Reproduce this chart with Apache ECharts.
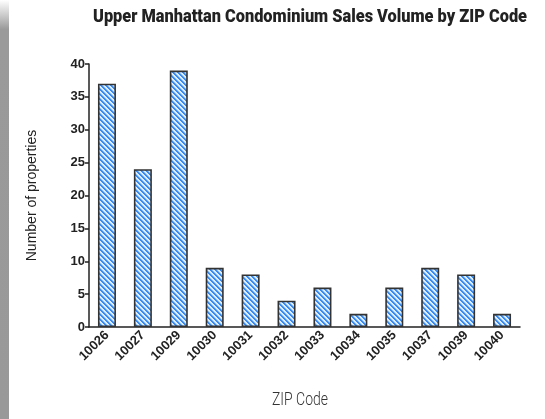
<!DOCTYPE html>
<html>
<head>
<meta charset="utf-8">
<script src="https://cdn.jsdelivr.net/npm/echarts@6/dist/echarts.min.js"></script>
<style>
html,body{margin:0;padding:0;background:#fff;}
#chart{width:545px;height:419px;}
</style>
</head>
<body>
<div id="chart"></div>
<script>
var categories = ['10026','10027','10029','10030','10031','10032','10033','10034','10035','10037','10039','10040'];
var salesCounts = [37, 24, 39, 9, 8, 4, 6, 2, 6, 9, 8, 2];
var yTicks = [0, 5, 10, 15, 20, 25, 30, 35, 40];
var titleText = 'Upper Manhattan Condominium Sales Volume by ZIP Code';
var xAxisTitle = 'ZIP Code';
var yAxisTitle = 'Number of properties';

function makePattern() {
  var c = document.createElement('canvas');
  var p = 5;
  c.width = p; c.height = p;
  var ctx = c.getContext('2d');
  var img = ctx.createImageData(p, p);
  for (var y = 0; y < p; y++) {
    for (var x = 0; x < p; x++) {
      var k = ((x - y) % p + p) % p;
      var i = (y * p + x) * 4;
      if (k < 2) { img.data[i]=58; img.data[i+1]=140; img.data[i+2]=240; }
      else if (k === 2) { img.data[i]=140; img.data[i+1]=190; img.data[i+2]=250; }
      else { img.data[i]=222; img.data[i+1]=237; img.data[i+2]=255; }
      img.data[i+3]=255;
    }
  }
  ctx.putImageData(img, 0, 0);
  return c;
}

function fitScale(text, font, target) {
  var c = document.createElement('canvas').getContext('2d');
  c.font = font;
  return target / c.measureText(text).width;
}

var titleFont = '900 18px Roboto';
var xNameFont = '300 18px Roboto';

var chart = echarts.init(document.getElementById('chart'), null, {renderer:'canvas'});
chart.setOption({
  animation: false,
  backgroundColor: '#fff',
  graphic: [{
    type: 'rect', left: 0, top: 0, z: -1,
    shape: {width: 9, height: 419},
    style: {fill: new echarts.graphic.LinearGradient(0,0,0,1,[
      {offset:0, color:'#ffffff'},{offset:0.07, color:'#9a9a9a'},{offset:1, color:'#999999'}])}
  }, {
    type: 'text', x: 310, y: 17, scaleX: fitScale(titleText, titleFont, 434),
    style: {text: titleText, font: titleFont, fill: '#222', textAlign: 'center', textVerticalAlign: 'middle'}
  }, {
    type: 'text', x: 300, y: 400, scaleX: fitScale(xAxisTitle, xNameFont, 56),
    style: {text: xAxisTitle, font: xNameFont, fill: '#333', textAlign: 'center', textVerticalAlign: 'middle'}
  }],
  grid: {left: 89, right: 25, top: 64, bottom: 92},
  xAxis: {
    type: 'category', data: categories,
    axisLine: {lineStyle: {color: '#222', width: 1.5}},
    axisTick: {alignWithLabel: true, length: 4, lineStyle: {color: '#222', width: 1.5}},
    axisLabel: {rotate: 45, fontFamily: 'Liberation Sans', fontWeight: 'bold', fontSize: 13, color: '#222', margin: 6}
  },
  yAxis: {
    type: 'value', min: 0, max: 40, interval: 5,
    name: yAxisTitle, nameLocation: 'middle', nameGap: 50,
    nameTextStyle: {fontFamily: 'Liberation Sans', fontSize: 14, color: '#222'},
    axisLine: {show: true, lineStyle: {color: '#222', width: 1.5}},
    axisTick: {show: true, length: 4, lineStyle: {color: '#222', width: 1.5}},
    splitLine: {show: false},
    axisLabel: {fontFamily: 'Liberation Sans', fontWeight: 'bold', fontSize: 13, color: '#222', margin: 4,
      formatter: function(v){ return yTicks.indexOf(v) >= 0 ? String(v) : ''; }}
  },
  series: [{
    type: 'bar', data: salesCounts, barWidth: 18,
    itemStyle: {color: {image: makePattern(), repeat: 'repeat'}, borderColor: '#333', borderWidth: 1.6}
  }]
});
</script>
</body>
</html>
